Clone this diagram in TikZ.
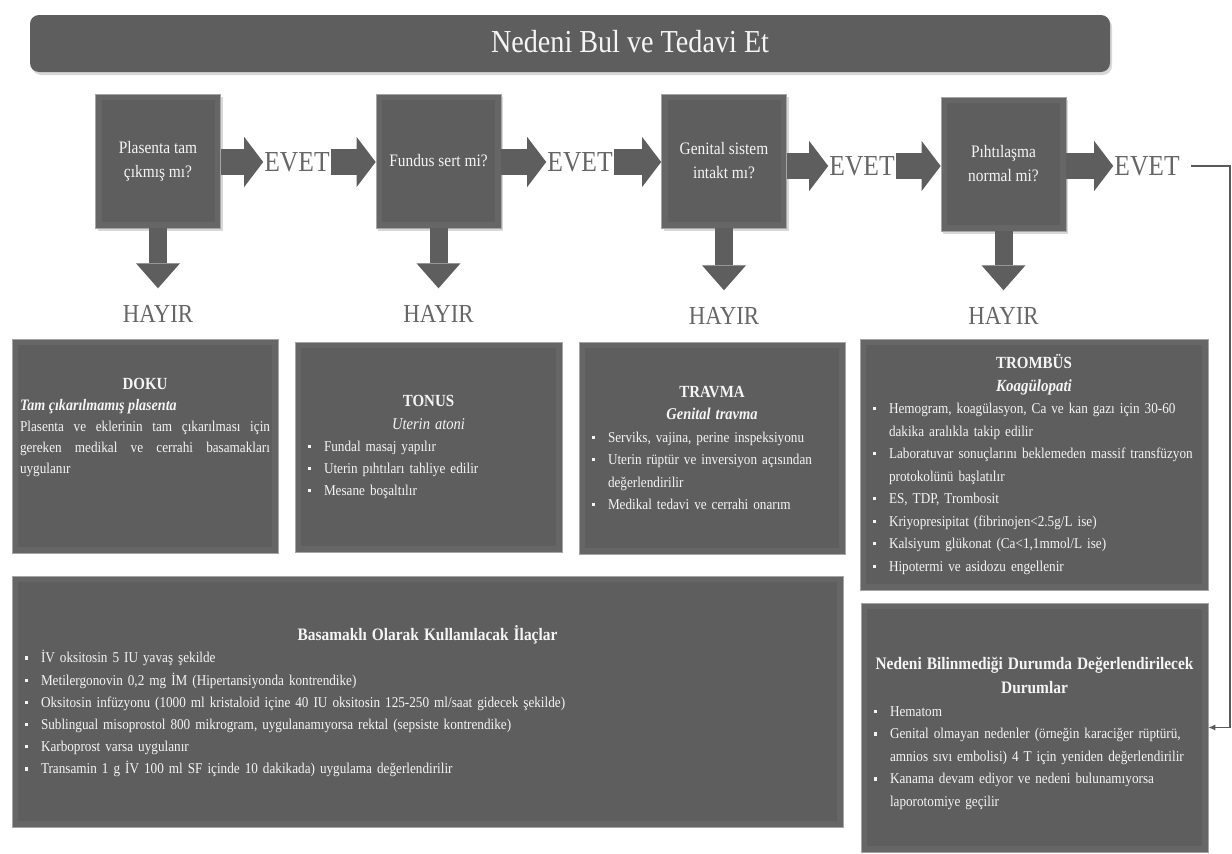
\documentclass[tikz,border=0pt]{standalone}
\usepackage{fontspec}
\setmainfont[FakeStretch=0.88]{Liberation Serif}
\usetikzlibrary{arrows.meta,shadows}
\definecolor{boxgray}{HTML}{5E5E5E}
\definecolor{boxedge}{HTML}{666666}
\definecolor{boxline}{HTML}{A5A5A5}
\definecolor{txtw}{HTML}{F5F5F5}
\definecolor{lblgray}{HTML}{666666}
\definecolor{linegray}{HTML}{5A5A5A}
\definecolor{shadowgray}{HTML}{C4C4C4}
\hyphenpenalty=10000
\exhyphenpenalty=10000
\newcommand\bl{\par\hangindent=17pt\hangafter=1\noindent\makebox[17pt][l]{\hspace{1pt}\raisebox{0.22em}{\rule{0.22em}{0.22em}}}}
\newcommand\fs[2]{\fontsize{#1}{#2}\selectfont}
\pgfdeclarelayer{bg}
\pgfsetlayers{bg,main}
\begin{document}
\begin{tikzpicture}[x=1pt,y=-1pt,
  panel/.style={fill=boxedge, draw=boxline, line width=0.7pt, text=txtw, inner xsep=12pt, inner ysep=0pt,
    path picture={\fill[boxgray] ([shift={(6pt,-6pt)}]path picture bounding box.north west) rectangle ([shift={(-6pt,6pt)}]path picture bounding box.south east);}},
  decbox/.style={panel, inner sep=4pt, align=center, font=\fs{17.5}{24},
    minimum width=125pt, minimum height=134pt,
    drop shadow={shadow xshift=2pt,shadow yshift=-3pt,opacity=0.3}},
  titlebar/.style={fill=boxgray, rounded corners=9pt, minimum width=1080pt, minimum height=57pt,
    drop shadow={shadow xshift=2pt,shadow yshift=-3pt,opacity=0.3}},
  evet/.style={text=lblgray, font=\fs{29}{29}, inner sep=1pt},
  hayir/.style={text=lblgray, font=\fs{26}{26}, inner sep=1pt, text height=17pt, text depth=0pt},
  blkr/.style={draw=boxgray, line width=26pt, -{Triangle[length=19pt 0 0, width=50pt 0 0, line width=0pt 0 0]}},
  blkd/.style={draw=boxgray, line width=18pt, shorten >=16pt, -{Triangle[length=25pt 0 0, width=44pt 0 0, line width=0pt 0 0]}},
  shad/.style={draw=shadowgray, transform canvas={shift={(2pt,-3pt)}}},
  conn/.style={draw=linegray, line width=1.2pt, -{Latex[length=7pt,width=6pt]}}
]
\fill[white] (0,0) rectangle (1232,854);
\useasboundingbox (0,0) rectangle (1232,854);

% title
\node[titlebar] (bar) at (570,43.5) {};
\node[text=txtw, font=\fs{32}{32}] (ttl) at (630,42) {Nedeni Bul ve Tedavi Et};

% decision boxes
\node[decbox] (b1) at (158,161) {Plasenta tam\\çıkmış mı?};
\node[decbox] (b2) at (438.5,161) {Fundus sert mi?};
\node[decbox] (b3) at (724,161) {Genital sistem\\intakt mı?};
\node[decbox] (b4) at (1003.5,164) {Pıhtılaşma\\normal mi?};

% EVET labels
\node[evet] (e1) at (297,162) {EVET};
\node[evet] (e2) at (580,162) {EVET};
\node[evet] (e3) at (862,166) {EVET};
\node[evet] (e4) at (1147,166) {EVET};

% HAYIR labels
\node[hayir] (h1) at (158,314) {HAYIR};
\node[hayir] (h2) at (438.5,314) {HAYIR};
\node[hayir] (h3) at (724,316) {HAYIR};
\node[hayir] (h4) at (1003.5,316) {HAYIR};

% arrows with shadows
\begin{pgfonlayer}{bg}
\foreach \a/\b in {b1/e1, b2/e2, b3/e3, b4/e4}{
  \draw[blkr, shad] (\a.east |- \b.west) -- (\b.west);}
\foreach \a/\b in {e1/b2, e2/b3, e3/b4}{
  \draw[blkr, shad] (\a.east) -- (\a.east -| \b.west);}
\foreach \a/\b in {b1/h1, b2/h2, b3/h3, b4/h4}{
  \draw[blkd, shad] (\a.south) -- (\b.north);}
\end{pgfonlayer}
\foreach \a/\b in {b1/e1, b2/e2, b3/e3, b4/e4}{
  \draw[blkr] (\a.east |- \b.west) -- (\b.west);}
\foreach \a/\b in {e1/b2, e2/b3, e3/b4}{
  \draw[blkr] (\a.east) -- (\a.east -| \b.west);}
\foreach \a/\b in {b1/h1, b2/h2, b3/h3, b4/h4}{
  \draw[blkd] (\a.south) -- (\b.north);}

% cause panels
\node[panel, minimum width=266pt, minimum height=214pt, inner xsep=8pt, text width=250pt, align=justify, font=\fs{15}{21}] (doku) at (145,446) {%
{\centering\fs{17}{21}\bfseries DOKU\par}
{\fs{16}{21}\bfseries\itshape Tam çıkarılmamış plasenta\par}
Plasenta ve eklerinin tam çıkarılması için gereken medikal ve cerrahi basamakları uygulanır\par
\rule{0pt}{36pt}};

\node[panel, minimum width=267pt, minimum height=210pt, text width=243pt, align=left, font=\fs{15}{22}] (tonus) at (428.5,447) {%
{\centering\fs{17}{23}\bfseries TONUS\par}
{\centering\fs{16.5}{23}\itshape Uterin atoni\par}
\bl Fundal masaj yapılır
\bl Uterin pıhtıları tahliye edilir
\bl Mesane boşaltılır\par};

\node[panel, minimum width=266pt, minimum height=212pt, text width=242pt, align=left, font=\fs{15}{22.5}] (travma) at (712,448) {%
{\centering\fs{17}{22.5}\bfseries TRAVMA\par}
{\centering\fs{16.5}{22.5}\bfseries\itshape Genital travma\par}
\bl Serviks, vajina, perine inspeksiyonu
\bl Uterin rüptür ve inversiyon açısından\newline değerlendirilir
\bl Medikal tedavi ve cerrahi onarım\par};

\node[panel, minimum width=348pt, minimum height=251pt, text width=324pt, align=left, font=\fs{15}{22.5}] (tromb) at (1034,464.5) {%
{\centering\fs{17}{22.5}\bfseries TROMBÜS\par}
{\centering\fs{17}{22.5}\bfseries\itshape Koagülopati\par}
\bl Hemogram, koagülasyon, Ca ve kan gazı için 30-60\newline dakika aralıkla takip edilir
\bl Laboratuvar sonuçlarını beklemeden massif transfüzyon\newline protokolünü başlatılır
\bl ES, TDP, Trombosit
\bl Kriyopresipitat (fibrinojen<2.5g/L ise)
\bl Kalsiyum glükonat (Ca<1,1mmol/L ise)
\bl Hipotermi ve asidozu engellenir\par};

\node[panel, minimum width=831pt, minimum height=251pt, text width=807pt, align=left, font=\fs{15}{22.2}] (ilac) at (427.5,701.5) {%
{\centering\fs{17.5}{22.2}\bfseries Basamaklı Olarak Kullanılacak İlaçlar\par}
\bl İV oksitosin 5 IU yavaş şekilde
\bl Metilergonovin 0,2 mg İM (Hipertansiyonda kontrendike)
\bl Oksitosin infüzyonu (1000 ml kristaloid içine 40 IU oksitosin 125-250 ml/saat gidecek şekilde)
\bl Sublingual misoprostol 800 mikrogram, uygulanamıyorsa rektal (sepsiste kontrendike)
\bl Karboprost varsa uygulanır
\bl Transamin 1 g İV 100 ml SF içinde 10 dakikada) uygulama değerlendirilir\par};

\node[panel, minimum width=347pt, minimum height=249pt, text width=323pt, align=left, font=\fs{15}{22.5}] (nb) at (1034.5,727.5) {%
{\centering\fs{17.5}{24.5}\bfseries\rule{0pt}{24pt}Nedeni Bilinmediği Durumda Değerlendirilecek\\ Durumlar\par}
\bl Hematom
\bl Genital olmayan nedenler (örneğin karaciğer rüptürü,\newline amnios sıvı embolisi) 4 T için yeniden değerlendirilir
\bl Kanama devam ediyor ve nedeni bulunamıyorsa\newline laporotomiye geçilir\par};

% connector from last EVET
\coordinate (turn) at (1230,0);
\draw[conn, shorten <=10pt] (e4.east) -- (e4.east -| turn) |- (nb.east);
\end{tikzpicture}
\end{document}
